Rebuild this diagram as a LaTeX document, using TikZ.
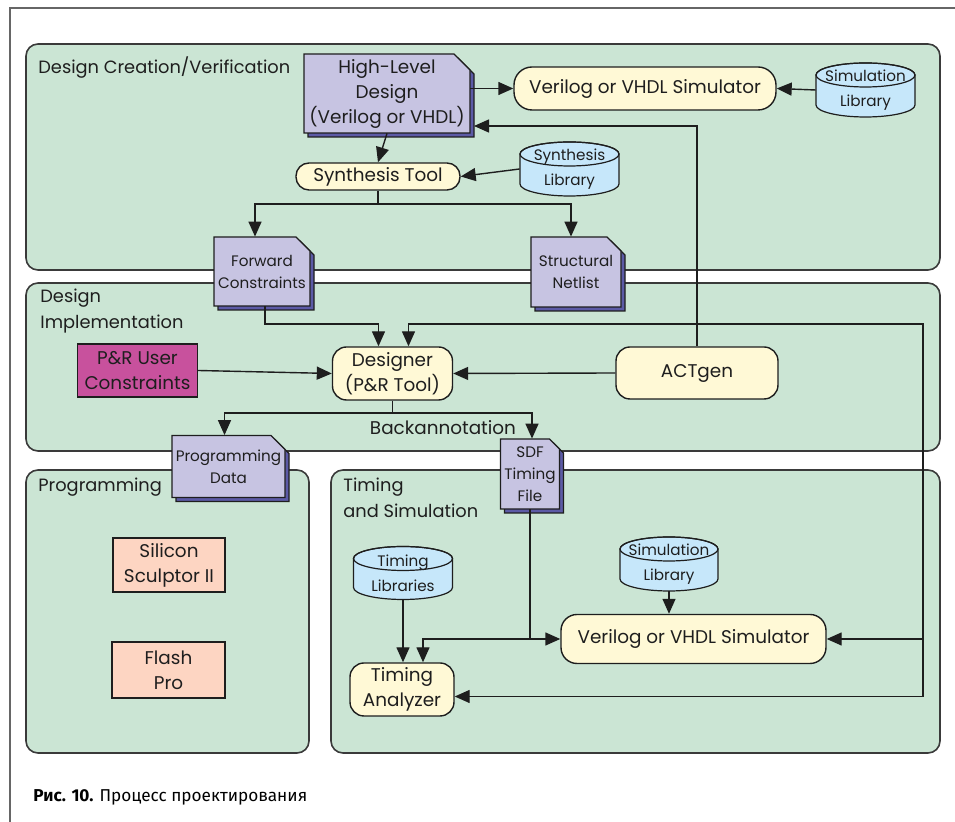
\documentclass[tikz,border=0pt]{standalone}
\usepackage{fontspec}
\setmainfont{Poppins}
\newfontfamily\capfont{Fira Sans}
\usetikzlibrary{arrows.meta}
\definecolor{panelfill}{HTML}{CBE5D4}
\definecolor{panelline}{HTML}{3A3A3A}
\definecolor{toolfill}{HTML}{FFF9D6}
\definecolor{docfill}{HTML}{C7C4E2}
\definecolor{docshade}{HTML}{5C5AA6}
\definecolor{libfill}{HTML}{C6E7FA}
\definecolor{userfill}{HTML}{C8519D}
\definecolor{progfill}{HTML}{FDD5C2}
\definecolor{inkcol}{HTML}{1E1E1E}
\newcommand\fmain{\fontsize{9.2}{12.5}\selectfont}
\newcommand\ftitle{\fontsize{8.9}{12.8}\selectfont}
\newcommand\fsmall{\fontsize{7.6}{11}\selectfont}
\newcommand\flib{\fontsize{7.6}{12.5}\selectfont}
% document with cut corner and shadow: [style] name, x, y, width, height, cut, text (px)
\newcommand\docnode[8][]{%
  \foreach \s/\c in {4/docshade,0/docfill}
    \filldraw[draw=inkcol,line width=0.6pt,fill=\c,shift={(\s,\s)}]
      ({#3-#5/2},{#4-#6/2}) -- ({#3+#5/2-#7},{#4-#6/2}) -- ({#3+#5/2},{#4-#6/2+#7})
      -- ({#3+#5/2},{#4+#6/2}) -- ({#3-#5/2},{#4+#6/2}) -- cycle;
  \node[doc,minimum width=#5*0.5pt,minimum height=#6*0.5pt,#1] (#2) at (#3,#4) {#8};
}
% library drum: name, x, y, width, height, text (px)
\newcommand\libnode[6]{%
  \filldraw[draw=inkcol,line width=0.6pt,fill=libfill]
    ({#2-#4/2},{#3-#5/2+12}) -- ({#2-#4/2},{#3+#5/2-12})
    arc[start angle=180,end angle=0,x radius={#4/2},y radius=12]
    -- ({#2+#4/2},{#3-#5/2+12})
    arc[start angle=0,end angle=-180,x radius={#4/2},y radius=12] -- cycle;
  \draw[draw=inkcol,line width=0.6pt] (#2,{#3-#5/2+12})
    ellipse[x radius={#4/2},y radius=12];
  \node[lib,minimum width=#4*0.5pt,minimum height=#5*0.5pt] (#1) at (#2,#3) {#6};
}

\begin{document}
\begin{tikzpicture}[x=0.5pt,y=-0.5pt,
    panel/.style={draw=panelline,line width=0.8pt,fill=panelfill,rounded corners=6pt},
    ptitle/.style={anchor=west,align=left,inner sep=0pt,text=inkcol,font=\ftitle},
    tool/.style={draw=inkcol,line width=0.7pt,fill=toolfill,rounded corners=7pt,
      align=center,inner sep=0pt,text=inkcol,font=\fmain},
    plain/.style={draw=inkcol,line width=0.7pt,align=center,inner sep=0pt,
      text=inkcol,font=\fmain},
    doc/.style={rectangle,inner sep=0pt,align=center,text=inkcol,font=\fsmall},
    lib/.style={rectangle,inner sep=0pt,align=center,text=inkcol,font=\flib},
    arr/.style={-{Triangle[length=7.5pt,width=6.5pt]},line width=0.7pt,draw=inkcol},
    link/.style={line width=0.7pt,draw=inkcol}]
  \useasboundingbox (0,0) rectangle (955,822);
  \draw[line width=0.8pt,draw=black!60] (10,822) -- (10,8) -- (955,8);

  % panels
  \draw[panel] (26,44) rectangle (940,270);
  \draw[panel] (26,283) rectangle (940,451);
  \draw[panel] (26,470) rectangle (309,753);
  \draw[panel] (331,470) rectangle (940,753);
  \node[ptitle] (tcreate) at (38,68) {Design Creation/Verification};
  \node[ptitle] (timpl) at (40,311) {Design\\Implementation};
  \node[ptitle] (tprog) at (38,487) {Programming};
  \node[ptitle] (ttime) at (343,498) {Timing\\and Simulation};

  % design creation
  \docnode[font=\fmain]{hld}{387}{93.5}{166}{79}{16}{High-Level\\Design\\(Verilog or VHDL)}
  \node[tool,minimum width=131pt,minimum height=21.5pt,rounded corners=9pt] (vsima)
    at (645,88.5) {Verilog or VHDL Simulator};
  \libnode{simliba}{865.5}{90}{99}{54}{Simulation\\Library}
  \node[tool,minimum width=82pt,minimum height=13.5pt,rounded corners=6.5pt] (synth)
    at (378,176.5) {Synthesis Tool};
  \libnode{synlib}{569.5}{169}{99}{54}{Synthesis\\Library}
  \docnode{fwd}{262}{271.5}{96}{69}{14}{Forward\\Constraints}
  \docnode{netlist}{576}{272}{90}{70}{14}{Structural\\Netlist}

  % implementation
  \node[plain,fill=userfill,minimum width=60pt,minimum height=26.5pt] (usercons)
    at (137.5,370.5) {P\&R User\\Constraints};
  \node[tool,minimum width=60pt,minimum height=26.5pt] (designer) at (392.5,373.5)
    {Designer\\(P\&R Tool)};
  \node[tool,minimum width=81pt,minimum height=26pt] (actgen) at (697,373) {ACTgen};
  \docnode{progdata}{228.5}{466.5}{113}{62}{14}{Programming\\Data}
  \docnode{sdf}{530}{474}{59}{70}{10}{SDF\\Timing\\File}
  \node[font=\fmain,text=inkcol,inner sep=0pt] (backann) at (443,428) {Backannotation};

  % programming
  \node[plain,fill=progfill,minimum width=56pt,minimum height=27pt] (sculptor)
    at (169,565) {Silicon\\Sculptor II};
  \node[plain,fill=progfill,minimum width=56.5pt,minimum height=28pt] (flashpro)
    at (168.5,670) {Flash\\Pro};

  % timing and simulation
  \libnode{timlib}{403}{573}{99}{53}{Timing\\Libraries}
  \libnode{simlibb}{669}{564}{98}{54}{Simulation\\Library}
  \node[tool,minimum width=132.5pt,minimum height=24.5pt,rounded corners=8pt] (vsimb)
    at (693.5,639) {Verilog or VHDL Simulator};
  \node[tool,minimum width=52pt,minimum height=26.5pt] (tanalyzer) at (402,689.5)
    {Timing\\Analyzer};

  \coordinate (actin) at (474,126);
  \coordinate (synbus) at (0,204);
  \coordinate (topbus) at (0,324);
  \coordinate (rbus) at (923,324);
  \coordinate (pnrbus) at (0,413);

  % connectors
  \draw[arr] (hld.east |- vsima.west) -- (vsima.west);
  \draw[arr] (simliba.west) -- (vsima.east);
  \draw[arr] (actgen.north) |- (actin);
  \draw[arr] (hld.south) -- (synth.north);
  \draw[arr] (synlib.west) -- (synth.east);
  \draw[link] (synth.south) -- (synth.south |- synbus);
  \draw[arr] (synth.south |- synbus) -| ([xshift=-3.5pt]fwd.north);
  \draw[arr] (synth.south |- synbus) -| ([xshift=-2.5pt]netlist.north);
  \draw[arr] ([xshift=1.5pt]fwd.south) -- ([xshift=1.5pt]fwd.south |- topbus)
    -| ([xshift=-7pt]designer.north);
  \draw[arr] (actgen.north |- topbus) -| ([xshift=8pt]designer.north);
  \draw[arr] (actgen.north |- topbus) -- (rbus) |- (vsimb.east);
  \draw[arr] (rbus) |- ([yshift=-3.5pt]tanalyzer.east);
  \draw[arr] (usercons.east) -- (designer.west);
  \draw[arr] (actgen.west) -- (designer.east);
  \draw[link] (designer.south) -- (designer.south |- pnrbus);
  \draw[arr] (designer.south |- pnrbus) -| ([xshift=-2pt]progdata.north);
  \draw[arr] (designer.south |- pnrbus) -| ([xshift=1pt]sdf.north);
  \draw[arr] (sdf.south) |- (vsimb.west);
  \draw[arr] (sdf.south |- vsimb.west) -| ([xshift=10.5pt]tanalyzer.north);
  \draw[arr] (timlib.south) -- (timlib.south |- tanalyzer.north);
  \draw[arr] (simlibb.south) -- (simlibb.south |- vsimb.north);

  \node[anchor=west,inner sep=0pt,text=black,font=\capfont\fontsize{8.6}{10}\selectfont]
    (caption) at (33,797) {\textbf{Рис. 10.} Процесс проектирования};
\end{tikzpicture}
\end{document}
